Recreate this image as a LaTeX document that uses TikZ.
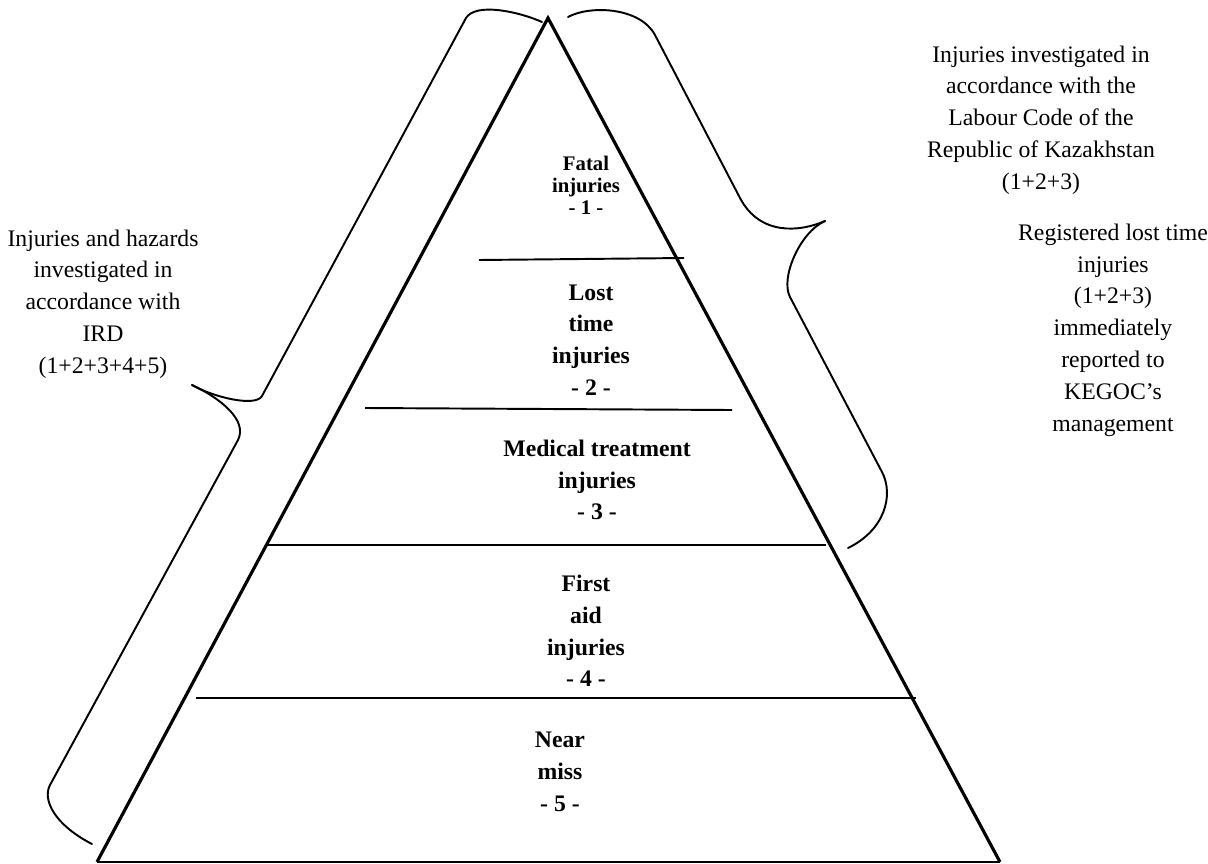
\documentclass[tikz,border=0pt]{standalone}
\usepackage{fontspec}
\setmainfont{Liberation Serif}
\begin{document}
\begin{tikzpicture}[
    x=0.02cm, y=-0.02cm,
    sidetext/.style={align=center, inner sep=0pt, font=\fontsize{13.5}{18.1}\selectfont},
    tiertext/.style={align=center, inner sep=0pt, font=\fontsize{13.5}{18.1}\selectfont\bfseries},
    divider/.style={line width=1.1pt},
    curlybrace/.style={line width=1.1pt, line cap=round}
]
\useasboundingbox (0,0) rectangle (1208,863);

% Pyramid
\coordinate (apex) at (548,18);
\coordinate (baseL) at (97,862);
\coordinate (baseR) at (1000,862);
\draw[line width=1.8pt, line join=miter] (baseL) -- (apex) -- (baseR);
\draw[divider] (baseL) -- (baseR);

% Levels
\draw[divider] (479,260) -- (684,258);
\draw[divider] (365,408) -- (732,410);
\draw[divider] (268,545) -- (826,545);
\draw[divider] (196,698) -- (916,698);

% Braces
\draw[curlybrace] (542,22) .. controls (520,12) and (476,2) .. (466,18) -- (262,396)
    .. controls (256,407) and (215,398) .. (192,385);
\draw[curlybrace] (192,385) .. controls (220,398) and (248,420) .. (238,440) -- (50,785)
    .. controls (42,800) and (55,825) .. (92,844);
\draw[curlybrace] (568,17) .. controls (590,5) and (640,7) .. (655,35) -- (740,198)
    .. controls (760,236) and (800,232) .. (825,221);
\draw[curlybrace] (825,221) .. controls (800,232) and (780,278) .. (790,297) -- (882,472)
    .. controls (894,495) and (885,530) .. (848,548);

% Tier labels
\node[tiertext, font=\fontsize{11.8}{12.6}\selectfont\bfseries] (fatal) at (586,185) {Fatal\\injuries\\- 1 -};
\node[tiertext] (losttime) at (591,340) {Lost\\time\\injuries\\- 2 -};
\node[tiertext] (medical) at (597,480) {Medical treatment\\injuries\\- 3 -};
\node[tiertext] (firstaid) at (586,631) {First\\aid\\injuries\\- 4 -};
\node[tiertext] (nearmiss) at (560,772) {Near\\miss\\- 5 -};

% Side notes
\node[sidetext] (irdnote) at (103,304) {Injuries and hazards\\investigated in\\accordance with\\IRD\\(1+2+3+4+5)};
\node[sidetext] (codenote) at (1041,120) {Injuries investigated in\\accordance with the\\Labour Code of the\\Republic of Kazakhstan\\(1+2+3)};
\node[sidetext] (kegocnote) at (1113,330) {Registered lost time\\injuries\\(1+2+3)\\immediately\\reported to\\KEGOC’s\\management};

\end{tikzpicture}
\end{document}
